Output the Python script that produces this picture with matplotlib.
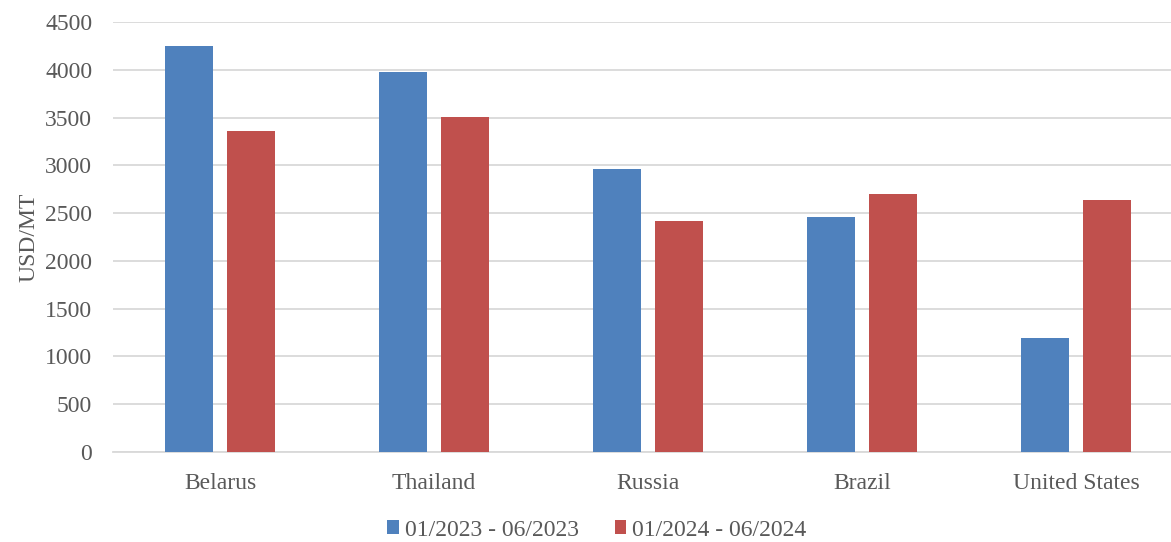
import numpy as np
import matplotlib.pyplot as plt
from matplotlib.patches import Patch

countries = ["Belarus", "Thailand", "Russia", "Brazil", "United States"]
h1_2023 = [4250, 3975, 2960, 2460, 1195]
h1_2024 = [3360, 3510, 2420, 2700, 2640]
series_labels = ["01/2023 - 06/2023", "01/2024 - 06/2024"]

blue = "#4F81BD"
red = "#C0504D"
text_gray = "#595959"
grid_gray = "#D9D9D9"

plt.rcParams["font.family"] = ["Liberation Serif", "DejaVu Serif"]

fig = plt.figure(figsize=(11.71, 5.42), dpi=100)
# plot area runs a little past the right edge of the image, as in the source
ax = fig.add_axes([113 / 1171, 1 - 452 / 542, 1070 / 1171, 430 / 542])

x = np.arange(len(countries))
width = 0.225
offset = 0.143
ax.bar(x - offset, h1_2023, width, color=blue, zorder=3)
ax.bar(x + offset, h1_2024, width, color=red, zorder=3)

ax.set_xlim(-0.5, len(countries) - 0.5)
ax.set_ylim(0, 4500)
ax.set_yticks(np.arange(0, 4501, 500))
ax.yaxis.grid(True, color=grid_gray, linewidth=1.3, zorder=0)
ax.set_axisbelow(True)

for side in ["top", "right", "left"]:
    ax.spines[side].set_visible(False)
ax.spines["bottom"].set_color(grid_gray)
ax.spines["bottom"].set_linewidth(1.3)

ax.set_xticks(x)
ax.set_xticklabels(countries)
ax.tick_params(axis="both", length=0, labelsize=17, colors=text_gray)
ax.tick_params(axis="x", pad=15)
ax.tick_params(axis="y", pad=15)
ax.set_ylabel("USD/MT", fontsize=17, color=text_gray, labelpad=4)

handles = [Patch(facecolor=blue), Patch(facecolor=red)]
fig.legend(
    handles, series_labels, loc="center", bbox_to_anchor=(597 / 1171, 1 - 530 / 542),
    ncol=2, frameon=False, fontsize=17, labelcolor=text_gray,
    handlelength=0.5, handleheight=0.5, handletextpad=0.25, columnspacing=1.5,
)

plt.savefig("out.png", dpi=100)
plt.close(fig)
